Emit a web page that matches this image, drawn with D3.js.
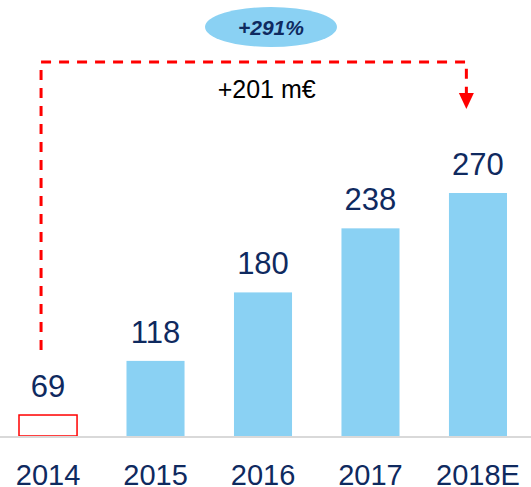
<!DOCTYPE html>
<html>
<head>
<meta charset="utf-8">
<script src="https://cdn.jsdelivr.net/npm/d3@7"></script>
<style>
  body { margin: 0; background: #fff; }
  text { font-family: "Liberation Sans", Arial, sans-serif; }
</style>
</head>
<body>
<svg id="chart" width="531" height="487"></svg>
<script>
(function() {
    // chart data
    var years = ["2014", "2015", "2016", "2017", "2018E"];
    var values = [69, 118, 180, 238, 270];
    var growthPct = "+291%";
    var growthAbs = "+201 m€";

    var width = 531, height = 487;
    var navy = "#0f2a5f", blue = "#8ad1f3", red = "#ff0000";

    var svg = d3.select("#chart");

    var x = d3.scaleBand()
        .domain(years)
        .range([19, 507])
        .paddingInner(0.46)
        .paddingOuter(0);

    // the axis doesn't start at zero in the original
    var y = d3.scaleLinear()
        .domain([50, 270])
        .range([436, 193]);

    var data = years.map((d, i) => ({ year: d, value: values[i] }));

    // bars: first year drawn as red outline
    svg.append("g")
        .selectAll("rect")
        .data(data)
        .enter()
        .append("rect")
            .attr("x", d => x(d.year))
            .attr("y", d => y(d.value))
            .attr("width", x.bandwidth())
            .attr("height", d => y(50) - y(d.value))
            .attr("fill", (d, i) => i == 0 ? "#fff" : blue)
            .attr("stroke", (d, i) => i == 0 ? red : "none")
            .attr("stroke-width", 1.5);

    // baseline
    svg.append("line")
        .attr("x1", 0).attr("x2", width)
        .attr("y1", y(50) + 1).attr("y2", y(50) + 1)
        .attr("stroke", "#d9d9d9")
        .attr("stroke-width", 2);

    // value labels
    svg.append("g")
        .selectAll("text")
        .data(data)
        .enter()
        .append("text")
            .attr("x", d => x(d.year) + x.bandwidth() / 2)
            .attr("y", d => y(d.value) - 18)
            .attr("text-anchor", "middle")
            .attr("font-size", 31)
            .attr("fill", navy)
            .text(d => d.value);

    // category labels
    var xAxis = svg.append("g")
        .attr("transform", "translate(0," + y(50) + ")")
        .call(d3.axisBottom(x).tickSize(0).tickPadding(0));
    xAxis.select(".domain").remove();
    xAxis.selectAll("text")
        .attr("y", 49)
        .attr("dy", 0)
        .attr("font-size", 29)
        .attr("fill", navy)
        .style("font-family", "'Liberation Sans', Arial, sans-serif");

    // dashed growth bracket
    var xa = x(years[0]) + x.bandwidth() * 0.38;
    var xb = x(years[4]) + x.bandwidth() * 0.3;
    var topY = 62;
    svg.append("path")
        .attr("d", "M" + xa + "," + 350 + "V" + topY + "H" + xb + "V" + 95)
        .attr("fill", "none")
        .attr("stroke", red)
        .attr("stroke-width", 3)
        .attr("stroke-dasharray", "10,8");
    svg.append("path")
        .attr("d", "M" + (xb - 7.5) + ",93L" + (xb + 7.5) + ",93L" + xb + ",109Z")
        .attr("fill", red);

    svg.append("text")
        .attr("x", (xa + xb) / 2 + 13)
        .attr("y", 98)
        .attr("text-anchor", "middle")
        .attr("font-size", 25)
        .attr("fill", "#000")
        .text(growthAbs);

    // growth bubble
    svg.append("ellipse")
        .attr("cx", 271).attr("cy", 27)
        .attr("rx", 66).attr("ry", 20)
        .attr("fill", blue);
    svg.append("text")
        .attr("x", 271)
        .attr("y", 35)
        .attr("text-anchor", "middle")
        .attr("font-size", 21)
        .attr("font-weight", "bold")
        .attr("font-style", "italic")
        .attr("fill", navy)
        .text(growthPct);
})();
</script>
</body>
</html>
